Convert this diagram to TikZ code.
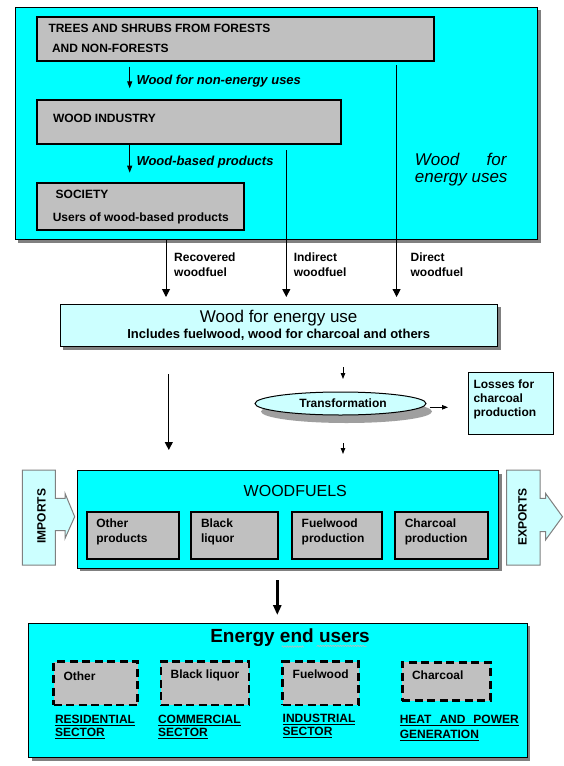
\documentclass[tikz,border=0pt]{standalone}
\usepackage{fontspec}
\setmainfont{Liberation Sans}
\usetikzlibrary{arrows.meta,calc,decorations.pathmorphing,shapes.geometric}
\definecolor{cy}{HTML}{00FFFF}
\definecolor{lcy}{HTML}{CCFFFF}
\definecolor{gbox}{HTML}{C0C0C0}
\definecolor{shd}{HTML}{808080}
\newcommand\rb[6]{\node[#1,anchor=north west,minimum width={(#5)-(#3)},minimum height={(#6)-(#4)}] (#2) at (#3,#4) {};}
\begin{document}
\begin{tikzpicture}[x=1pt,y=-1pt,
  every node/.style={inner sep=0pt,outer sep=0pt},
  shadowed/.style={preaction={fill=shd,transform canvas={shift={(3pt,-3pt)}}}},
  cybox/.style={draw=black,line width=1pt,fill=cy},
  lcbox/.style={draw=black,line width=1pt,fill=lcy},
  gb/.style={draw=black,line width=2pt,fill=gbox},
  db/.style={draw=black,line width=2.6pt,fill=gbox,dash pattern=on 8pt off 4.5pt},
  tb/.style={font=\bfseries\fontsize{12}{14}\selectfont,anchor=west,align=left},
  tbi/.style={font=\bfseries\itshape\fontsize{13}{15}\selectfont,anchor=west},
  ul/.style={font=\bfseries\fontsize{12}{13.3}\selectfont,anchor=west,align=left},
  arr/.style={line width=1pt,-{Triangle[length=8pt,width=8pt]}},
  sarr/.style={line width=1pt,-{Triangle[length=7pt,width=5pt]}},
  tarr/.style={line width=1pt,-{Triangle[length=6pt,width=4.5pt]}},
  bigarr/.style={line width=3.5pt,-{Triangle[length=10pt,width=8pt]}},
  sidearrow/.style={draw=shd,line width=1pt,fill=lcy}
]
\useasboundingbox (0,0) rectangle (563,766);
\fill[white] (0,0) rectangle (563,766);

% ---------- top block ----------
\rb{cybox,shadowed}{top}{15.4}{7.3}{537.7}{239.7}
\rb{gb}{trees}{37}{17.3}{433.5}{61}
\rb{gb}{ind}{37}{100}{341}{144}
\rb{gb}{soc}{37}{182.7}{243.5}{230}

\node[tb] (t1) at (48.5,28.3) {TREES AND SHRUBS FROM FORESTS};
\node[tb] (t2) at (52,48.7) {AND NON-FORESTS};
\node[tbi] (lnon) at (136.5,81) {Wood for non-energy uses};
\node[tb] (t3) at (53,118.3) {WOOD INDUSTRY};
\node[tbi] (lwbp) at (136.5,161.7) {Wood-based products};
\node[tb] (t4) at (55.7,194.3) {SOCIETY};
\node[tb] (t5) at (52.8,218.7) {Users of wood-based products};
\node[font=\itshape\fontsize{17}{17.3}\selectfont,anchor=west,align=left] (wfeu) at (414.9,169.7)
  {\makebox[91.6pt][s]{Wood for}\\energy uses};

\coordinate (xa) at (129.7,0);
\coordinate (xr) at (166,0);
\coordinate (xi) at (286.3,0);
\coordinate (xd) at (396.6,0);

\draw[sarr] ($(xa |- trees.south)+(0,5.7)$) -- ($(xa |- ind.north)+(0,-11.7)$);
\draw[sarr] (xa |- ind.south) -- ($(xa |- soc.north)+(0,-10)$);

% ---------- wood for energy use ----------
\rb{lcbox,shadowed}{weu}{60.3}{304}{497.5}{346.7}
\node[font=\fontsize{17}{19}\selectfont] (weu1) at (278.7,318.3) {Wood for energy use};
\node[font=\bfseries\fontsize{13}{15}\selectfont] (weu2) at (278.7,334.3) {Includes fuelwood, wood for charcoal and others};

\draw[arr] (xr |- top.south) -- ($(xr |- weu.north)+(0,-7)$);
\draw[arr] ($(xi |- ind.south)+(0,6)$) -- ($(xi |- weu.north)+(0,-7)$);
\draw[arr] ($(xd |- trees.south)+(0,4)$) -- ($(xd |- weu.north)+(0,-7)$);

\node[tb,font=\bfseries\fontsize{12}{15.4}\selectfont] (lrec) at (174.2,265) {Recovered\\woodfuel};
\node[tb,font=\bfseries\fontsize{12}{15.4}\selectfont] (lind) at (293.8,265) {Indirect\\woodfuel};
\node[tb,font=\bfseries\fontsize{12}{15.4}\selectfont] (ldir) at (410.6,265) {Direct\\woodfuel};

% ---------- transformation ----------
\node[ellipse,draw=black,line width=1pt,fill=lcy,minimum width=171pt,minimum height=23pt,
  preaction={fill=gray!75,transform canvas={shift={(6pt,-8pt)}}},
  font=\bfseries\fontsize{12}{14}\selectfont] (tr) at (340.5,403.5) {\hspace{5pt}Transformation};
\rb{lcbox}{loss}{468.5}{372.7}{553.3}{434}
\node[tb,font=\bfseries\fontsize{12}{14}\selectfont] (lloss) at (473.5,399) {Losses for\\charcoal\\production};

% ---------- woodfuels ----------
\rb{cybox,shadowed}{wf}{77.2}{470.7}{498.6}{568.3}

\coordinate (xl) at (168.8,0);
\coordinate (xt) at (343,0);
\draw[arr] ($(xl |- weu.south)+(0,27.3)$) -- ($(xl |- wf.north)+(0,-20.7)$);
\draw[tarr] ($(xt |- weu.south)+(0,20.3)$) -- ($(xt |- tr.north)+(0,-13)$);
\draw[tarr] ($(tr.east)+(3.5,3.8)$) -- ($(tr.east -| loss.west)+(-20.5,3.8)$);
\draw[tarr] ($(xt |- tr.south)+(0,28)$) -- ($(xt |- wf.north)+(0,-16.7)$);

\node[font=\fontsize{16}{18}\selectfont] (wft) at (295.3,491) {WOODFUELS};
\rb{gb}{op}{87.3}{512.3}{178.5}{559}
\rb{gb}{bl}{191}{512.3}{278.4}{559}
\rb{gb}{fp}{291.7}{512.3}{382.2}{559}
\rb{gb}{cp}{395}{512.3}{487.8}{559}
\node[tb,font=\bfseries\fontsize{12}{14.7}\selectfont] (top1) at (96.3,531.6) {Other\\products};
\node[tb,font=\bfseries\fontsize{12}{14.7}\selectfont] (tbl1) at (201,531.6) {Black\\liquor};
\node[tb,font=\bfseries\fontsize{12}{14.7}\selectfont] (tfp1) at (301.7,531.6) {Fuelwood\\production};
\node[tb,font=\bfseries\fontsize{12}{14.7}\selectfont] (tcp1) at (404.8,531.6) {Charcoal\\production};

\path[sidearrow] (22.3,470) -- (55.4,470) -- (55.4,498.3) -- (65,498.3) -- (65,493.3) -- (74.7,516.7)
  -- (65,538.5) -- (65,530.5) -- (55.4,530.5) -- (55.4,565) -- (22.3,565) -- cycle;
\node[font=\bfseries\fontsize{12}{14}\selectfont,rotate=90] (imp) at (41.5,516) {IMPORTS};
\path[sidearrow] (506.5,470) -- (540.2,470) -- (540.2,498.3) -- (545.5,498.3) -- (545.5,493.3) -- (562.5,516.7)
  -- (545.5,540) -- (545.5,531.7) -- (540.2,531.7) -- (540.2,565) -- (506.5,565) -- cycle;
\node[font=\bfseries\fontsize{12}{14}\selectfont,rotate=90] (exp) at (522.5,517) {EXPORTS};

% ---------- energy end users ----------
\rb{cybox,shadowed}{eu}{28.5}{623.3}{527}{757.7}
\coordinate (xb) at (277.3,0);
\draw[bigarr] ($(xb |- wf.south)+(0,11.7)$) -- ($(xb |- eu.north)+(0,-8.3)$);
\node[font=\bfseries\fontsize{19}{21}\selectfont] (eut) at (290,637.3) {Energy end users};
\draw[gray!55,line width=0.6pt,decorate,decoration={snake,amplitude=0.7pt,segment length=2.5pt}]
  (281.7,646.6) -- (303,646.6) (316.7,646.6) -- (366.7,646.6);

\rb{db}{d1}{53.6}{661.7}{137.7}{705}
\rb{db}{d2}{161}{661.7}{249}{705}
\rb{db}{d3}{282.7}{661.7}{358.5}{705}
\rb{db}{d4}{402.3}{662.3}{490.3}{700.7}
\node[tb] (dt1) at (63.5,676) {Other};
\node[tb] (dt2) at (170.6,675) {Black liquor};
\node[tb] (dt3) at (292.7,674.3) {Fuelwood};
\node[tb] (dt4) at (412,675.7) {Charcoal};

\node[ul] (s1) at (55,726.7) {\underline{RESIDENTIAL}\\\underline{SECTOR}};
\node[ul] (s2) at (158,726.7) {\underline{COMMERCIAL}\\\underline{SECTOR}};
\node[ul] (s3) at (282.7,725.8) {\underline{INDUSTRIAL}\\\underline{SECTOR}};
\node[ul,font=\bfseries\fontsize{12}{15}\selectfont] (s4) at (399.8,728.2) {\underline{\makebox[119pt][s]{HEAT AND POWER}}\\\underline{GENERATION}};
\end{tikzpicture}
\end{document}
